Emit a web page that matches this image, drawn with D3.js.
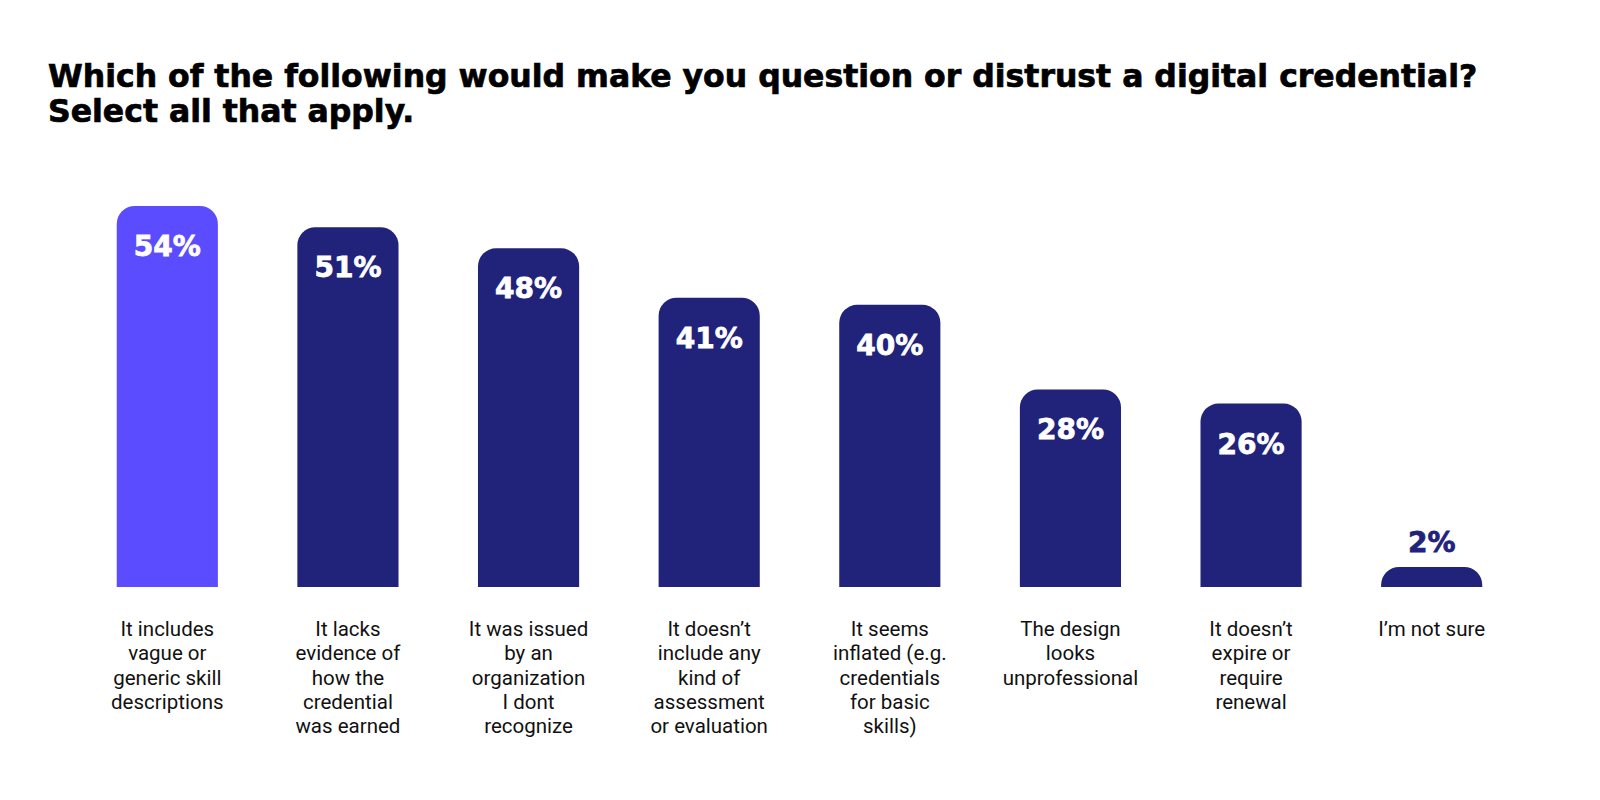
<!DOCTYPE html>
<html>
<head>
<meta charset="utf-8">
<script src="https://cdn.jsdelivr.net/npm/d3@7"></script>
<style>
  html, body { margin: 0; padding: 0; background: #fff; }
</style>
</head>
<body>
<div id="chart"></div>
<script>
var titleLines = [
  "Which of the following would make you question or distrust a digital credential?",
  "Select all that apply."
];
var categories = [
  "It includes\nvague or\ngeneric skill\ndescriptions",
  "It lacks\nevidence of\nhow the\ncredential\nwas earned",
  "It was issued\nby an\norganization\nI dont\nrecognize",
  "It doesn\u2019t\ninclude any\nkind of\nassessment\nor evaluation",
  "It seems\ninflated (e.g.\ncredentials\nfor basic\nskills)",
  "The design\nlooks\nunprofessional",
  "It doesn\u2019t\nexpire or\nrequire\nrenewal",
  "I\u2019m not sure"
];
var values = [54, 51, 48, 41, 40, 28, 26, 2];

var width = 1600, height = 800;
var baseline = 587;
var navy = "#21237a", violet = "#5b4cff";

var svg = d3.select("#chart").append("svg")
  .attr("width", width)
  .attr("height", height)
  .style("display", "block");

svg.append("rect").attr("width", width).attr("height", height).attr("fill", "#fff");

// title, bold with a thin stroke to get closer to the heavy face
var title = svg.append("g")
  .attr("font-family", "'DejaVu Sans', sans-serif")
  .attr("font-weight", "bold")
  .attr("fill", "#000")
  .attr("stroke", "#000")
  .attr("stroke-width", 0.7);
title.selectAll("text")
  .data(titleLines)
  .enter()
  .append("text")
  .attr("x", 48)
  .attr("y", function(d, i) { return 87 + i * 35; })
  .attr("font-size", 28)
  .text(function(d) { return d; });

// squeeze the first line to the width it has in the picture
var first = title.select("text").node();
var w = first.getComputedTextLength();
if (w > 0) {
  var fs = Math.max(24, Math.min(32, 28 * 1430 / w));
  title.selectAll("text").attr("font-size", fs);
}

var x = d3.scaleBand()
  .domain(categories)
  .range([77, 1522])
  .paddingInner(0.44)
  .paddingOuter(0.22);

var y = d3.scaleLinear()
  .domain([0, 54])
  .range([baseline, 206]);

var radius = 18, minH = 20;

function roundTop(x0, y0, w, h, r) {
  r = Math.min(r, h, w / 2);
  return "M" + x0 + "," + (y0 + h) +
    "V" + (y0 + r) +
    "A" + r + "," + r + " 0 0 1 " + (x0 + r) + "," + y0 +
    "H" + (x0 + w - r) +
    "A" + r + "," + r + " 0 0 1 " + (x0 + w) + "," + (y0 + r) +
    "V" + (y0 + h) + "Z";
}

function barH(v) { return Math.max(baseline - y(v), minH); }

var bars = svg.selectAll(".bar")
  .data(values)
  .enter()
  .append("g")
  .attr("class", "bar");

bars.append("path")
  .attr("d", function(d, i) {
    var h = barH(d);
    return roundTop(x(categories[i]), baseline - h, x.bandwidth(), h, radius);
  })
  .attr("fill", function(d, i) { return i === 0 ? violet : navy; });

bars.append("text")
  .attr("x", function(d, i) { return x(categories[i]) + x.bandwidth() / 2; })
  .attr("y", function(d) {
    var h = barH(d);
    return h > 60 ? baseline - h + 50 : baseline - h - 15;
  })
  .attr("text-anchor", "middle")
  .attr("font-family", "'DejaVu Sans', sans-serif")
  .attr("font-weight", "bold")
  .attr("font-size", 28)
  .attr("fill", function(d) { return barH(d) > 60 ? "#fff" : navy; })
  .attr("stroke", function(d) { return barH(d) > 60 ? "#fff" : navy; })
  .attr("stroke-width", 0.8)
  .text(function(d) { return d + "%"; });

// category labels
var labels = svg.selectAll(".cat")
  .data(categories)
  .enter()
  .append("text")
  .attr("class", "cat")
  .attr("text-anchor", "middle")
  .attr("font-family", "Roboto, sans-serif")
  .attr("font-size", 20.5)
  .attr("fill", "#111");

labels.selectAll("tspan")
  .data(function(d) { return d.split("\n").map(function(t) { return { t: t, c: d }; }); })
  .enter()
  .append("tspan")
  .attr("x", function(d) { return x(d.c) + x.bandwidth() / 2; })
  .attr("y", function(d, i) { return 636 + i * 24.3; })
  .text(function(d) { return d.t; });
</script>
</body>
</html>
